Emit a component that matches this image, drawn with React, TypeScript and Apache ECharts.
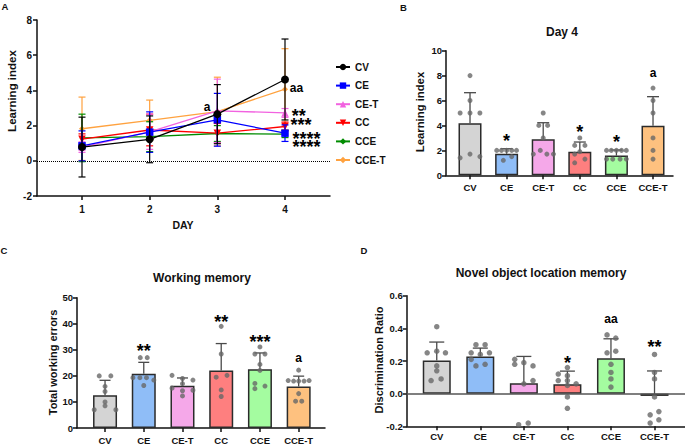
import React, { useEffect, useRef } from 'react';
import * as echarts from 'echarts';

const FONT = '"Liberation Sans", Arial, sans-serif';

// ---------- shared categories ----------
const groups = ['CV', 'CE', 'CE-T', 'CC', 'CCE', 'CCE-T'];
const dayTicks = [1, 2, 3, 4];
const groupTicks = [0, 1, 2, 3, 4, 5];

// ---------- Panel A: learning index per day (mean, SD) ----------
const aMeanCV = [0.78, 1.22, 2.65, 4.62];
const aSdCV = [1.7, 1.33, 1.68, 2.3];
const aMeanCE = [0.85, 1.63, 2.33, 1.57];
const aSdCE = [0.85, 1.15, 1.5, 0.47];
const aMeanCET = [0.78, 1.65, 2.84, 2.72];
const aSdCET = [0.3, 1.0, 1.8, 0.25];
const aMeanCC = [1.23, 1.75, 1.57, 1.95];
const aSdCC = [0.3, 0.9, 0.55, 0.25];
const aMeanCCE = [1.3, 1.37, 1.55, 1.52];
const aSdCCE = [1.35, 0.85, 0.45, 0.2];
const aMeanCCET = [1.82, 2.3, 2.8, 4.07];
const aSdCCET = [1.8, 1.15, 1.95, 2.3];
const aMeans = [aMeanCV, aMeanCE, aMeanCET, aMeanCC, aMeanCCE, aMeanCCET];
const aSds = [aSdCV, aSdCE, aSdCET, aSdCC, aSdCCE, aSdCCET];
const aNoteText = ['a', 'aa', '**', '***', '****', '****'];
const aNoteX = [2.8, 4.07, 4.1, 4.08, 4.11, 4.11];
const aNoteY = [2.98, 4.09, 2.8, 2.27, 1.48, 1.02];

// ---------- Panel B: day 4 learning index ----------
const bMeans = [4.17, 1.73, 2.89, 1.9, 1.58, 3.98];
const bSds = [2.46, 0.4, 1.33, 0.77, 0.45, 2.33];
const bDots = [
  [8, 6, 5, 5, 5, 1.4, 1.7, 1.5],
  [2, 2, 2, 2, 2, 1.2, 1.5],
  [5, 4, 4, 3, 2, 1.7, 1.7, 1.7],
  [3, 2.4, 2.4, 1.9, 1.7, 1.3, 1.0],
  [2, 2, 2, 2, 2, 1.3, 1.3, 1.3, 1.3],
  [7, 6, 5, 3, 2, 1.3],
];
const bJitter = [
  [0, 0, -0.27, 0, 0.27, -0.27, 0, 0.27],
  [-0.27, -0.14, 0, 0.14, 0.27, -0.09, 0.14],
  [0, -0.12, 0.12, 0, -0.08, -0.27, 0.1, 0.28],
  [0, -0.14, 0.14, 0, -0.14, 0.14, -0.14],
  [-0.27, -0.14, 0, 0.14, 0.27, -0.27, -0.1, 0.1, 0.27],
  [0, 0, 0, 0, 0, 0],
];
const bNotes = ['', '*', '', '*', '*', 'a'];
const bNoteY = [0, 3.1, 0, 3.8, 2.97, 8.13];

// ---------- Panel C: working memory ----------
const cMeans = [12.6, 20.8, 16.2, 22.1, 22.5, 15.9];
const cSds = [5.7, 4.4, 3.0, 10.3, 6.3, 4.0];
const cDots = [
  [20, 20, 16, 14, 10, 8.5, 7, 7],
  [27, 27, 19.3, 19.3, 19.3, 18.4, 16.3],
  [20.2, 19, 18.4, 17, 15.3, 14.3, 14.5, 12.3],
  [39, 28.4, 19.5, 20.2, 14.6, 12.1],
  [31.1, 28.4, 28.4, 24.4, 22.1, 17.1, 15.1, 16.1],
  [22.2, 18.2, 18, 18, 18, 18.2, 13.2, 10.3, 10.3],
];
const cJitter = [
  [-0.15, 0.15, 0, 0, 0, 0, -0.28, 0.28],
  [-0.09, 0.09, -0.28, -0.1, 0.07, 0.26, 0],
  [-0.27, 0, 0.27, 0, -0.27, 0, 0.27, 0],
  [0, 0, -0.13, 0.15, 0, 0],
  [0, -0.13, 0.13, 0, 0, -0.13, -0.13, 0.13],
  [0, -0.27, -0.13, 0, 0.14, 0.27, 0, -0.08, 0.08],
];
const cNotes = ['', '**', '', '**', '***', 'a'];
const cNoteY = [0, 31.0, 0, 42.2, 34.5, 26.3];

// ---------- Panel D: novel object location memory ----------
const dMeans = [0.203, 0.228, 0.064, 0.057, 0.217, -0.014];
const dSds = [0.113, 0.051, 0.164, 0.081, 0.119, 0.153];
const dDots = [
  [0.41, 0.25, 0.26, 0.25, 0.17, 0.14, 0.08, 0.09],
  [0.3, 0.3, 0.25, 0.25, 0.24, 0.21, 0.17, 0.18],
  [0.21, 0.18, 0.19, 0.17, 0.06, 0.08, -0.19, -0.18],
  [0.16, 0.12, 0.11, 0.08, 0.08, 0.06, 0.05, -0.02, -0.09],
  [0.36, 0.34, 0.25, 0.26, 0.18, 0.13, 0.09, 0.04],
  [0.24, 0.13, 0.09, -0.02, -0.11, -0.13, -0.16, -0.18],
];
const dJitter = [
  [0, -0.22, 0, 0.2, 0, 0, -0.13, 0.1],
  [-0.1, 0.11, -0.21, 0.21, 0, -0.21, -0.1, 0.11],
  [-0.21, -0.21, 0, 0.21, 0, 0.21, -0.12, 0.1],
  [0, -0.21, 0, -0.21, 0, 0.2, 0, 0, 0],
  [-0.09, 0.11, -0.09, 0.11, 0, 0, 0, 0],
  [0, 0, 0, 0, 0.1, -0.1, 0.1, -0.1],
];
const dNotes = ['', '', '', '*', 'aa', '**'];
const dNoteY = [0, 0, 0, 0.215, 0.452, 0.309];

// ---------- styles ----------
const lineColors = ['#000000', '#0000ff', '#f262e0', '#ff0000', '#008c00', '#ffa23f'];
const lineSymbols = ['circle', 'rect', 'triangle', 'triangle', 'diamond', 'diamond'];
const symbolSizes = [8, 7.5, 7.5, 7.5, 5, 6];
const symbolRotations = [0, 0, 0, 180, 0, 0];
const barColors = ['#d4d4d4', '#8fbdf7', '#f5a8e9', '#fe7f7f', '#a4fca0', '#fec17f'];
const barColorsD = ['#d4d4d4', '#8fbdf7', '#f5a8e9', '#fe7f7f', '#a4fca0', '#b78b5f'];
const AX = '#111111';

const errRender = (color: string, half: number, both: boolean, width: number) => (params: any, api: any) => {
  const x = api.value(0);
  const m = api.value(1);
  const s = api.value(2);
  const top = api.coord([x, m + s]);
  const bot = api.coord([x, both ? m - s : m]);
  const st = { stroke: color, lineWidth: width };
  const kids: any[] = [
    { type: 'line', shape: { x1: top[0], y1: top[1], x2: bot[0], y2: bot[1] }, style: st },
    { type: 'line', shape: { x1: top[0] - half, y1: top[1], x2: top[0] + half, y2: top[1] }, style: st },
  ];
  if (both) {
    kids.push({ type: 'line', shape: { x1: bot[0] - half, y1: bot[1], x2: bot[0] + half, y2: bot[1] }, style: st });
  }
  return { type: 'group', children: kids };
};

function xAxisCfg(gi: number, min: number, max: number, ticks: number[], fmt: any, margin: number, fontSize: number) {
  return {
    type: 'value', gridIndex: gi, min, max,
    axisLine: { show: true, onZero: false, lineStyle: { color: AX, width: 1.5 } },
    axisTick: { show: true, customValues: ticks, length: 4, lineStyle: { color: AX, width: 1.5 } },
    axisLabel: { customValues: ticks, formatter: fmt, color: AX, fontWeight: 'bold', fontSize, fontFamily: FONT, margin },
    splitLine: { show: false },
  };
}
function yAxisCfg(gi: number, min: number, max: number, interval: number, fmt: any, margin: number, fontSize: number) {
  return {
    type: 'value', gridIndex: gi, min, max, interval,
    axisLine: { show: true, onZero: false, lineStyle: { color: AX, width: 1.5 } },
    axisTick: { show: true, length: 4, lineStyle: { color: AX, width: 1.5 } },
    axisLabel: { formatter: fmt, color: AX, fontWeight: 'bold', fontSize, fontFamily: FONT, margin },
    splitLine: { show: false },
  };
}

const isStar = (t: string) => t.indexOf('*') >= 0;

// significance marks drawn through the axes of their panel
function noteSeries(gi: number, items: { t: string; x: number; y: number }[], align: string) {
  return {
    type: 'custom', name: 'notes' + gi, xAxisIndex: gi, yAxisIndex: gi, z: 20, silent: true,
    encode: { x: 0, y: 1 },
    data: items.map((it) => [it.x, it.y]),
    renderItem: (params: any, api: any) => {
      const t = items[params.dataIndex].t;
      const p = api.coord([api.value(0), api.value(1)]);
      const star = isStar(t);
      const size = star ? 18 : 12;
      return {
        type: 'text', x: p[0], y: p[1] + (star ? 4 : -1),
        style: {
          text: t, fill: '#000', font: `bold ${size}px ${FONT}`,
          textAlign: align, textVerticalAlign: 'middle', align, verticalAlign: 'middle',
        },
      };
    },
  };
}

function barPanel(gi: number, means: number[], sds: number[], dots: number[][], jitter: number[][],
  colors: string[], notes: string[], noteY: number[], spec: any) {
  const out: any[] = [];
  out.push({
    type: 'bar', name: 'bars' + gi, xAxisIndex: gi, yAxisIndex: gi, barWidth: spec.barWidth, z: 2,
    data: means.map((m, i) => ({ value: [i, m], itemStyle: { color: colors[i], borderColor: '#2b2b2b', borderWidth: 1.5 } })),
    markLine: spec.zeroLine ? {
      silent: true, symbol: ['none', 'none'], label: { show: false },
      lineStyle: { color: '#555', width: 1.5, type: 'solid' }, data: [{ yAxis: 0 }],
    } : undefined,
  });
  out.push({
    type: 'custom', name: 'err' + gi, xAxisIndex: gi, yAxisIndex: gi, z: 3,
    renderItem: errRender('#4a4a4a', spec.cap, false, 1.3),
    encode: { x: 0, y: 1 },
    data: means.map((m, i) => [i, m, sds[i]]),
  });
  out.push({
    type: 'scatter', name: 'dots' + gi, xAxisIndex: gi, yAxisIndex: gi, z: 4, symbolSize: spec.dot,
    itemStyle: { color: '#686868' },
    data: dots.flatMap((arr, i) => arr.map((v, j) => [i + jitter[i][j], v])),
  });
  const items = notes.map((t, i) => ({ t, x: i, y: noteY[i] })).filter((it) => it.t !== '');
  out.push(noteSeries(gi, items, 'center'));
  return out;
}

function buildOption() {
  const grids = [
    { left: 37, top: 20, width: 293, height: 176 },
    { left: 446, top: 50.7, width: 227, height: 124.6 },
    { left: 77, top: 297.7, width: 248, height: 131.3 },
    { left: 406.7, top: 295.7, width: 278.3, height: 130.6 },
  ];
  const catFmt = (v: number) => groups[Math.round(v)];
  const xAxis = [
    xAxisCfg(0, 0.335, 4.665, dayTicks, (v: number) => String(Math.round(v)), 8, 10),
    xAxisCfg(1, -0.656, 5.546, groupTicks, catFmt, 7, 9.5),
    xAxisCfg(2, -0.724, 5.68, groupTicks, catFmt, 7, 9.5),
    xAxisCfg(3, -0.69, 5.7, groupTicks, catFmt, 5, 9.5),
  ];
  const yAxis = [
    yAxisCfg(0, -2, 8, 2, null, 5, 10),
    yAxisCfg(1, 0, 10, 2, null, 4, 9.5),
    yAxisCfg(2, 0, 50, 10, null, 4, 9.5),
    yAxisCfg(3, -0.2, 0.6, 0.2, (v: number) => v.toFixed(1), 4, 9.5),
  ];

  const series: any[] = [];
  const zOrder = [9, 8, 7, 6, 5, 4];
  groups.forEach((g, k) => {
    series.push({
      type: 'custom', name: 'errA-' + g, xAxisIndex: 0, yAxisIndex: 0, z: zOrder[k],
      renderItem: errRender(lineColors[k], 3.5, true, 1.2),
      encode: { x: 0, y: 1 },
      data: dayTicks.map((d, i) => [d, aMeans[k][i], aSds[k][i]]),
    });
    series.push({
      type: 'line', name: g, xAxisIndex: 0, yAxisIndex: 0, z: zOrder[k],
      data: dayTicks.map((d, i) => [d, aMeans[k][i]]),
      symbol: lineSymbols[k], symbolSize: symbolSizes[k], symbolRotate: symbolRotations[k],
      lineStyle: { color: lineColors[k], width: 1.3 },
      itemStyle: { color: lineColors[k] },
      markLine: k === 0 ? {
        silent: true, symbol: ['none', 'none'], label: { show: false },
        lineStyle: { color: '#000', width: 1, type: 'dotted' }, data: [{ yAxis: 0 }],
      } : undefined,
    });
  });
  series.push(noteSeries(0, aNoteText.map((t, i) => ({ t, x: aNoteX[i], y: aNoteY[i] })), 'left'));

  series.push(...barPanel(1, bMeans, bSds, bDots, bJitter, barColors, bNotes, bNoteY, { barWidth: 23, cap: 6, dot: 5 }));
  series.push(...barPanel(2, cMeans, cSds, cDots, cJitter, barColors, cNotes, cNoteY, { barWidth: 24, cap: 5.5, dot: 5 }));
  series.push(...barPanel(3, dMeans, dSds, dDots, dJitter, barColorsD, dNotes, dNoteY, { barWidth: 28, cap: 7.5, dot: 5.5, zeroLine: true }));

  const txt = (t: string, x: number, y: number, size: number, rot = 0) => ({
    type: 'text', x, y, rotation: rot, silent: true,
    style: {
      text: t, fill: AX, font: `bold ${size}px ${FONT}`,
      textAlign: 'center', textVerticalAlign: 'middle', align: 'center', verticalAlign: 'middle',
    },
  });
  const R = Math.PI / 2;
  const graphic = [
    txt('A', 5, 6, 9.5),
    txt('B', 403.5, 7, 9.5),
    txt('C', 4, 250, 9.5),
    txt('D', 364, 250, 9.5),
    txt('Day 4', 562, 32, 12),
    txt('Working memory', 202, 278, 12),
    txt('Novel object location memory', 541, 272.5, 12),
    txt('DAY', 183, 225, 10.5),
    txt('Learning index', 12, 91, 11.5, R),
    txt('Learning index', 420, 112, 11.3, R),
    txt('Total working errors', 52.5, 362.5, 11, R),
    txt('Discrimination Ratio', 378.5, 360, 11, R),
  ];

  return {
    animation: false,
    backgroundColor: '#ffffff',
    textStyle: { fontFamily: FONT },
    grid: grids,
    xAxis,
    yAxis,
    legend: {
      data: groups, orient: 'vertical', left: 330, top: 57, itemWidth: 14, itemHeight: 8, itemGap: 8.6,
      textStyle: { fontWeight: 'bold', fontSize: 10, color: AX, fontFamily: FONT },
      selectedMode: false,
    },
    series,
    graphic,
  };
}

export default function App() {
  const ref = useRef<HTMLDivElement>(null);
  useEffect(() => {
    document.body.style.margin = '0';
    const chart = echarts.init(ref.current as HTMLDivElement, null, { renderer: 'svg' });
    chart.setOption(buildOption() as any);
    return () => chart.dispose();
  }, []);
  return <div ref={ref} style={{ width: 685, height: 445, background: '#fff' }} />;
}
